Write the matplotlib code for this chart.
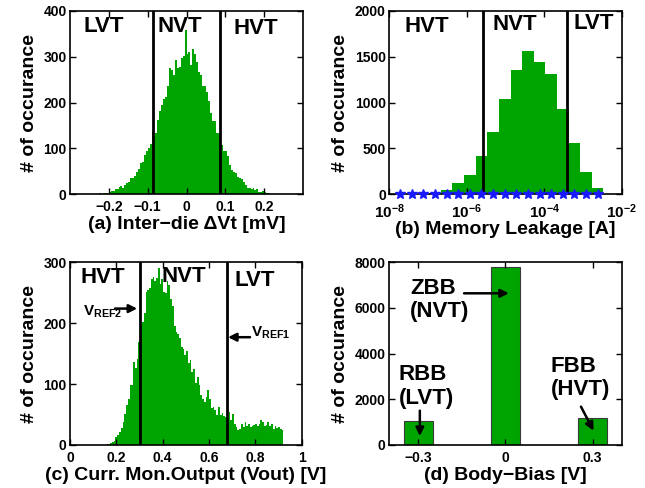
import numpy as np
import matplotlib
matplotlib.use("Agg")
import matplotlib.pyplot as plt

plt.rcParams["font.family"] = ["Liberation Sans", "DejaVu Sans"]
plt.rcParams["font.weight"] = "bold"
plt.rcParams["axes.labelweight"] = "bold"
plt.rcParams["mathtext.fontset"] = "custom"
plt.rcParams["mathtext.rm"] = "Liberation Sans:bold"
plt.rcParams["mathtext.bf"] = "Liberation Sans:bold"
plt.rcParams["mathtext.it"] = "Liberation Sans:bold"
plt.rcParams["axes.unicode_minus"] = True

GREEN = "#00a400"

# ---- (a) inter-die threshold shift histogram (100 bins over [-0.25, 0.25])
dvt_range = (-0.25, 0.25)
dvt_counts = [
    0, 1, 0, 1, 1, 2, 1, 2, 3, 3,
    5, 6, 7, 10, 12, 15, 18, 14, 20, 23,
    27, 36, 36, 40, 49, 55, 67, 71, 85, 94,
    100, 110, 136, 125, 133, 162, 181, 195, 208, 211,
    235, 275, 271, 260, 293, 276, 278, 297, 302, 358,
    307, 311, 283, 317, 307, 289, 267, 260, 235, 235,
    224, 203, 176, 160, 160, 133, 133, 111, 107, 93,
    94, 82, 63, 52, 48, 45, 38, 36, 33, 27,
    20, 14, 14, 11, 14, 9, 10, 5, 5, 7,
    4, 2, 2, 1, 1, 1, 1, 0, 1, 0,
]
dvt_bounds = [-0.086, 0.086]

# ---- (b) memory leakage histogram (log10 bin centres, 0.3 decade bins)
leak_log_centers = [-7.72, -7.42, -7.12, -6.82, -6.52, -6.22, -5.92, -5.62, -5.32,
                    -5.02, -4.72, -4.42, -4.12, -3.82, -3.52, -3.22, -2.92, -2.62]
leak_counts = [0, 0, 0, 11, 43, 123, 207, 417, 678, 1033, 1359, 1565, 1446,
               1308, 924, 554, 239, 69]
leak_bounds = [10 ** -5.57, 10 ** -3.42]

# ---- (c) current monitor output histogram (100 bins over [0.158, 0.921])
vout_range = (0.158, 0.921)
vout_counts = [
    2, 2, 3, 5, 7, 13, 16, 21, 28, 38,
    51, 65, 75, 98, 99, 136, 126, 142, 169, 198,
    202, 216, 251, 254, 257, 273, 276, 270, 274, 290,
    265, 273, 252, 250, 270, 262, 240, 229, 196, 186,
    183, 175, 161, 158, 147, 155, 134, 139, 120, 124,
    101, 112, 98, 82, 76, 71, 79, 90, 76, 60,
    62, 57, 49, 62, 49, 52, 48, 46, 43, 54,
    41, 51, 35, 30, 24, 27, 35, 30, 38, 32,
    35, 30, 32, 33, 35, 32, 35, 41, 38, 32,
    33, 38, 32, 35, 27, 32, 28, 30, 26, 25,
]
vref2, vref1 = 0.30, 0.676

# ---- (d) body-bias assignment
bias_values = [-0.3, 0.0, 0.3]
bias_counts = [1030, 7780, 1190]
bias_labels = ["RBB\n(LVT)", "ZBB\n(NVT)", "FBB\n(HVT)"]

W, H = 645, 488
fig = plt.figure(figsize=(W / 100, H / 100), dpi=100)


def px_axes(x0, y0, x1, y1):
    return fig.add_axes([x0 / W, 1 - y1 / H, (x1 - x0) / W, (y1 - y0) / H])


def style(ax, xpad=4):
    ax.tick_params(direction="in", top=True, right=True, length=4, width=1,
                   labelsize=10)
    ax.tick_params(axis="y", pad=2.5)
    ax.tick_params(axis="x", pad=xpad)
    for s in ax.spines.values():
        s.set_linewidth(1.2)
    for lab in ax.get_xticklabels() + ax.get_yticklabels():
        lab.set_fontweight("bold")


LBL = dict(fontsize=14, fontweight="bold")
REG = dict(fontsize=16, fontweight="bold", ha="center", va="center")

# (a)
ax = px_axes(70, 11, 303, 194)
edges = np.linspace(dvt_range[0], dvt_range[1], len(dvt_counts) + 1)
ax.bar(edges[:-1], dvt_counts, width=np.diff(edges), align="edge",
       color=GREEN, edgecolor="none", linewidth=0)
for b in dvt_bounds:
    ax.axvline(b, color="k", lw=2)
ax.set_xlim(-0.3, 0.3)
ax.set_ylim(0, 400)
ax.set_xticks([-0.2, -0.1, 0, 0.1, 0.2])
ax.set_xticklabels(["\u22120.2", "\u22120.1", "0", "0.1", "0.2"])
ax.set_yticks([0, 100, 200, 300, 400])
ax.set_xlabel("(a) Inter\u2212die \u0394Vt [mV]", labelpad=2, **LBL)
ax.set_ylabel("# of occurance", **LBL)
ax.text(0.143, 0.918, "LVT", transform=ax.transAxes, **REG)
ax.text(0.473, 0.918, "NVT", transform=ax.transAxes, **REG)
ax.text(0.798, 0.905, "HVT", transform=ax.transAxes, **REG)
style(ax)

# (b)
ax = px_axes(389.3, 11, 621.7, 194)
lc = np.array(leak_log_centers)
left = 10 ** (lc - 0.15)
right = 10 ** (lc + 0.15)
ax.bar(left, leak_counts, width=right - left, align="edge",
       color=GREEN, edgecolor="none", linewidth=0)
for b in leak_bounds:
    ax.axvline(b, color="k", lw=2)
ax.plot(10 ** lc, np.zeros_like(lc), linestyle="none", marker="*",
        markersize=7, color="#1a1aff", markeredgecolor="#1a1aff",
        clip_on=False, zorder=5)
ax.set_xscale("log")
ax.set_xlim(1e-8, 1e-2)
ax.set_ylim(0, 2000)
ax.set_xticks([1e-8, 1e-6, 1e-4, 1e-2])
ax.set_xticklabels([r"$\mathbf{10^{-8}}$", r"$\mathbf{10^{-6}}$",
                    r"$\mathbf{10^{-4}}$", r"$\mathbf{10^{-2}}$"])
ax.xaxis.set_minor_locator(matplotlib.ticker.NullLocator())
ax.set_yticks([0, 500, 1000, 1500, 2000])
ax.set_xlabel("(b) Memory Leakage [A]", labelpad=0, **LBL)
ax.set_ylabel("# of occurance", **LBL)
ax.text(0.162, 0.918, "HVT", transform=ax.transAxes, **REG)
ax.text(0.542, 0.927, "NVT", transform=ax.transAxes, **REG)
ax.text(0.878, 0.933, "LVT", transform=ax.transAxes, **REG)
style(ax, xpad=6)
for lab in ax.get_xticklabels():
    lab.set_fontsize(11)

# (c)
ax = px_axes(70, 262.3, 301.7, 445)
edges = np.linspace(vout_range[0], vout_range[1], len(vout_counts) + 1)
ax.bar(edges[:-1], vout_counts, width=np.diff(edges), align="edge",
       color=GREEN, edgecolor="none", linewidth=0)
ax.axvline(vref2, color="k", lw=2)
ax.axvline(vref1, color="k", lw=2)
ax.set_xlim(0, 1)
ax.set_ylim(0, 300)
ax.set_xticks([0, 0.2, 0.4, 0.6, 0.8, 1.0])
ax.set_xticklabels(["0", "0.2", "0.4", "0.6", "0.8", "1"])
ax.set_yticks([0, 100, 200, 300])
ax.set_xlabel("(c) Curr. Mon.Output (Vout) [V]", labelpad=2, **LBL)
ax.set_ylabel("# of occurance", **LBL)
ax.text(0.141, 0.918, "HVT", transform=ax.transAxes, **REG)
ax.text(0.493, 0.921, "NVT", transform=ax.transAxes, **REG)
ax.text(0.797, 0.903, "LVT", transform=ax.transAxes, **REG)
arrow = dict(arrowstyle="-|>", color="k", lw=1.8, mutation_scale=12,
             shrinkA=0, shrinkB=0)
ax.annotate("", xy=(vref2 - 0.01, 224), xytext=(0.194, 224), arrowprops=arrow)
ax.text(0.058, 212, r"$\mathbf{V_{REF2}}$", fontsize=11, ha="left",
        va="baseline")
ax.annotate("", xy=(vref1 + 0.006, 177), xytext=(0.777, 177), arrowprops=arrow)
ax.text(0.78, 178, r"$\mathbf{V_{REF1}}$", fontsize=11, ha="left",
        va="baseline")
style(ax)

# (d)
ax = px_axes(389, 262.3, 621.7, 445)
ax.bar(bias_values, bias_counts, width=0.1, color=GREEN,
       edgecolor="#3a3a3a", linewidth=0.8)
ax.set_xlim(-0.4, 0.4)
ax.set_ylim(0, 8000)
ax.set_xticks(bias_values)
ax.set_xticklabels(["\u22120.3", "0", "0.3"])
ax.set_yticks([0, 2000, 4000, 6000, 8000])
ax.set_xlabel("(d) Body\u2212Bias [V]", labelpad=2, **LBL)
ax.set_ylabel("# of occurance", **LBL)
TXT = dict(fontsize=16, fontweight="bold", ha="left", va="center",
           linespacing=1.15)
ax.text(-0.367, 2560, bias_labels[0], **TXT)
ax.text(-0.327, 6360, bias_labels[1], **TXT)
ax.text(0.156, 2930, bias_labels[2], **TXT)
ax.annotate("", xy=(-0.294, 394), xytext=(-0.294, 1504), arrowprops=arrow)
ax.annotate("", xy=(0.012, 6642), xytext=(-0.142, 6642), arrowprops=arrow)
ax.annotate("", xy=(0.303, 628), xytext=(0.26, 1679), arrowprops=arrow)
style(ax)

fig.savefig("out.png", dpi=100)
